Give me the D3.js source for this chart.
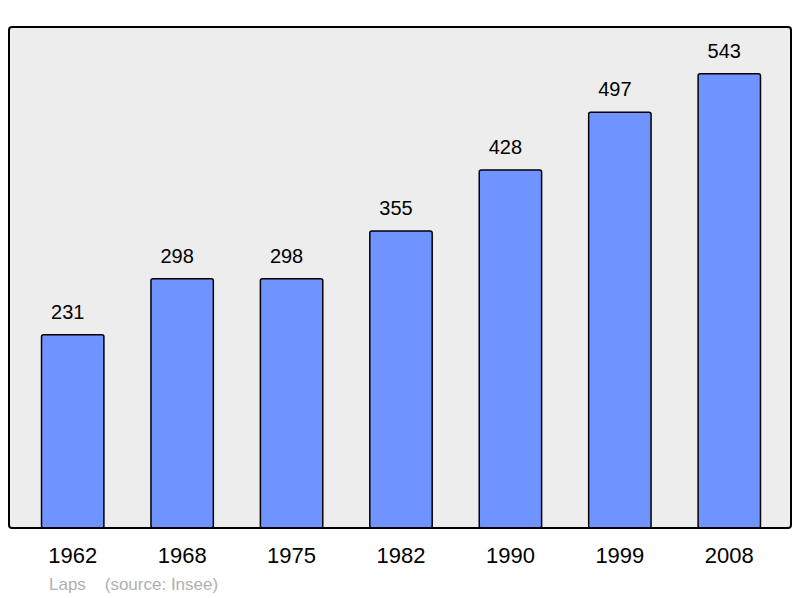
<!DOCTYPE html>
<html>
<head>
<meta charset="utf-8">
<script src="https://cdn.jsdelivr.net/npm/d3@7"></script>
<style>
  body { margin: 0; background: #fff; }
  text { font-family: "Liberation Sans", Arial, sans-serif; }
</style>
</head>
<body>
<div id="chart"></div>
<script>
const years = ['1962', '1968', '1975', '1982', '1990', '1999', '2008'];
const population = [231, 298, 298, 355, 428, 497, 543];
const yDomain = [0, 600];

const width = 800;
const height = 598;
const frame = { left: 9, top: 27, right: 791, bottom: 528 };

const svg = d3.select('#chart').append('svg')
  .attr('width', width)
  .attr('height', height);

const x = d3.scaleBand()
  .domain(years)
  .range([18, 784])
  .paddingInner(0.43)
  .paddingOuter(0.215);

const y = d3.scaleLinear()
  .domain(yDomain)
  .range([frame.bottom, frame.top - 1]);

// plot background
svg.append('rect')
  .attr('x', frame.left)
  .attr('y', frame.top)
  .attr('width', frame.right - frame.left)
  .attr('height', frame.bottom - frame.top)
  .attr('rx', 3)
  .attr('fill', '#ededed');

const data = years.map((year, i) => ({ year, value: population[i] }));

svg.selectAll('.bar')
  .data(data)
  .join('rect')
  .attr('class', 'bar')
  .attr('x', (d) => x(d.year))
  .attr('y', (d) => y(d.value))
  .attr('width', x.bandwidth())
  .attr('height', (d) => y(0) - y(d.value))
  .attr('rx', 2)
  .attr('fill', '#7094ff')
  .attr('stroke', '#000')
  .attr('stroke-width', 1.5);

// value labels sit a little left of the bar centre
svg.selectAll('.value')
  .data(data)
  .join('text')
  .attr('class', 'value')
  .attr('x', (d) => x(d.year) + x.bandwidth() / 2 - 5)
  .attr('y', (d) => y(d.value) - 16)
  .attr('text-anchor', 'middle')
  .attr('font-size', 20)
  .attr('fill', '#000')
  .text((d) => d.value);

// frame on top of bars
svg.append('rect')
  .attr('x', frame.left)
  .attr('y', frame.top)
  .attr('width', frame.right - frame.left)
  .attr('height', frame.bottom - frame.top)
  .attr('rx', 3)
  .attr('fill', 'none')
  .attr('stroke', '#000')
  .attr('stroke-width', 2);

const axis = d3.axisBottom(x).tickSize(0).tickPadding(0);
svg.append('g')
  .attr('transform', `translate(0,${frame.bottom + 19})`)
  .call(axis)
  .call((g) => g.select('.domain').remove())
  .selectAll('text')
  .attr('font-size', 22)
  .attr('font-family', '"Liberation Sans", Arial, sans-serif')
  .attr('fill', '#000')
  .attr('dy', '0.72em');

svg.append('text')
  .attr('x', 49)
  .attr('y', 590)
  .attr('font-size', 17)
  .attr('fill', '#b0b0b0')
  .attr('xml:space', 'preserve')
  .text('Laps    (source: Insee)');
</script>
</body>
</html>
